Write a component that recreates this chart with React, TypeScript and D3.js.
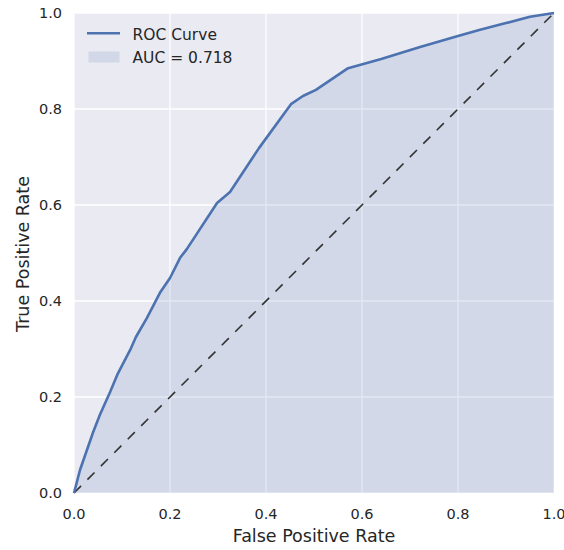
import React from "react";
import * as d3 from "d3";

const fpr = [0, 0.0125, 0.04, 0.054, 0.075, 0.09, 0.117, 0.129, 0.152, 0.179, 0.2, 0.221, 0.235, 0.298, 0.325, 0.385, 0.452, 0.477, 0.504, 0.571, 0.64, 0.721, 0.8, 0.846, 0.9, 0.95, 1.0];
const tpr = [0, 0.048, 0.127, 0.163, 0.21, 0.246, 0.298, 0.325, 0.365, 0.417, 0.448, 0.49, 0.508, 0.604, 0.627, 0.718, 0.81, 0.827, 0.84, 0.885, 0.904, 0.929, 0.952, 0.965, 0.979, 0.992, 1.0];
const xTicks = [0, 0.2, 0.4, 0.6, 0.8, 1.0];
const yTicks = [0, 0.2, 0.4, 0.6, 0.8, 1.0];
const legendLabels = ["ROC Curve", "AUC = 0.718"];
const xLabel = "False Positive Rate";
const yLabel = "True Positive Rate";

export default function App() {
  const W = 564, H = 550;
  const left = 74, right = 554, top = 13, bottom = 493;
  const x = d3.scaleLinear().domain([0, 1]).range([left, right]);
  const y = d3.scaleLinear().domain([0, 1]).range([bottom, top]);
  const pts = fpr.map((f, i) => [f, tpr[i]] as [number, number]);
  const line = d3.line<[number, number]>().x(d => x(d[0])).y(d => y(d[1]));
  const area = d3.area<[number, number]>().x(d => x(d[0])).y0(y(0)).y1(d => y(d[1]));
  const blue = "#4C72B0";
  const txt = "#262626";
  const font = "DejaVu Sans, sans-serif";
  return (
    <div style={{ position: "fixed", left: 0, top: 0, width: W, height: H, overflow: "hidden", background: "#fff" }}>
      <svg width={W} height={H} style={{ display: "block" }} fontFamily={font}>
        <rect x={left} y={top} width={right - left} height={bottom - top} fill="#EAEAF2" />
        {xTicks.map(t => (
          <line key={"gx" + t} x1={x(t)} x2={x(t)} y1={top} y2={bottom} stroke="#fff" strokeWidth={1.3} />
        ))}
        {yTicks.map(t => (
          <line key={"gy" + t} x1={left} x2={right} y1={y(t)} y2={y(t)} stroke="#fff" strokeWidth={1.3} />
        ))}
        <path d={area(pts) || ""} fill={blue} fillOpacity={0.15} />
        <line x1={x(0)} y1={y(0)} x2={x(1)} y2={y(1)} stroke="#333" strokeWidth={1.6} strokeDasharray="10,9" />
        <path d={line(pts) || ""} fill="none" stroke={blue} strokeWidth={2.6} strokeLinejoin="round" />
        {xTicks.map(t => (
          <text key={"tx" + t} x={x(t)} y={518.5} textAnchor="middle" fontSize={14.5} fill={txt}>
            {t.toFixed(1)}
          </text>
        ))}
        {yTicks.map(t => (
          <text key={"ty" + t} x={62} y={y(t) + 5} textAnchor="end" fontSize={14.5} fill={txt}>
            {t.toFixed(1)}
          </text>
        ))}
        <text x={(left + right) / 2} y={542} textAnchor="middle" fontSize={17.5} fill={txt}>
          {xLabel}
        </text>
        <text transform={`translate(29,${254}) rotate(-90)`} textAnchor="middle" fontSize={17.5} fill={txt}>
          {yLabel}
        </text>
        <line x1={87} x2={120} y1={33.3} y2={33.3} stroke={blue} strokeWidth={2.6} />
        <text x={132.5} y={39.5} fontSize={15.5} fill={txt}>{legendLabels[0]}</text>
        <rect x={88.5} y={51.5} width={31} height={11} fill={blue} fillOpacity={0.15} />
        <text x={132.5} y={62.5} fontSize={15.5} fill={txt}>{legendLabels[1]}</text>
      </svg>
    </div>
  );
}
